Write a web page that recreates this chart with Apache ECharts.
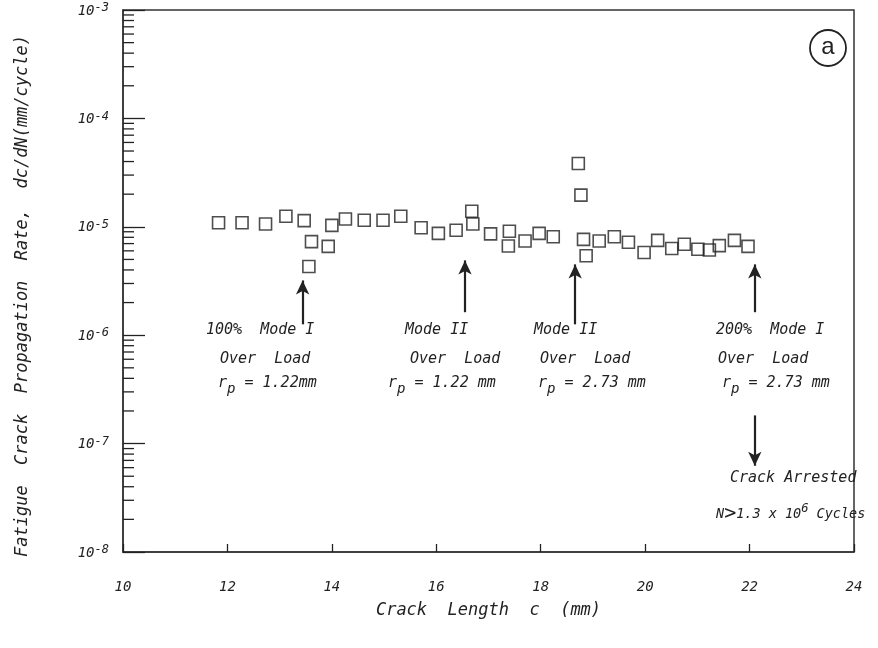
<!DOCTYPE html>
<html>
<head>
<meta charset="utf-8">
<script src="https://cdn.jsdelivr.net/npm/echarts@6/dist/echarts.min.js"></script>
<style>
html,body{margin:0;padding:0;background:#fff;}
#chart{width:878px;height:648px;}
</style>
</head>
<body>
<div id="chart"></div>
<script>
// ---- data ----
const crackLength = [11.83,12.28,12.73,13.12,13.47,13.61,13.56,14.00,13.93,14.26,14.62,14.98,15.32,15.71,16.04,16.38,16.68,16.70,17.04,17.40,17.38,17.70,17.97,18.24,18.72,18.77,18.82,18.87,19.12,19.41,19.68,19.98,20.24,20.51,20.75,21.01,21.23,21.42,21.71,21.97];
const growthRate = [1.09e-5,1.09e-5,1.06e-5,1.25e-5,1.14e-5,7.3e-6,4.3e-6,1.03e-5,6.6e-6,1.18e-5,1.15e-5,1.15e-5,1.25e-5,9.8e-6,8.7e-6,9.3e-6,1.39e-5,1.06e-5,8.6e-6,9.1e-6,6.65e-6,7.4e-6,8.7e-6,8.1e-6,3.84e-5,1.96e-5,7.65e-6,5.4e-6,7.4e-6,8.1e-6,7.2e-6,5.8e-6,7.5e-6,6.3e-6,6.9e-6,6.2e-6,6.1e-6,6.7e-6,7.5e-6,6.6e-6];
const xTickLabels = [10,12,14,16,18,20,22,24];
const yTickExponents = [-8,-7,-6,-5,-4,-3];
const minorMantissas = [2,3,4,5,6,7,8,9];
// overload arrows (x, tail value, head value)
const arrowX    = [13.44, 16.55, 18.66, 22.10, 22.10];
const arrowFrom = [1.26e-6, 1.63e-6, 1.26e-6, 1.63e-6, 1.82e-7];
const arrowTo   = [3.2e-6, 4.9e-6, 4.5e-6, 4.5e-6, 6.25e-8];

const minorTickData = [];
yTickExponents.slice(0, -1).forEach(e => minorMantissas.forEach(m => minorTickData.push([10, m * Math.pow(10, e)])));

const arrowLines = arrowX.map((x, i) => [{coord: [x, arrowFrom[i]]}, {coord: [x, arrowTo[i]]}]);

const ink = '#222';
const FONT = 'DejaVu Sans Mono';
const chart = echarts.init(document.getElementById('chart'));

function annot(x, y, text, size) {
  const fs = size || 15;
  return {type: 'text', left: x, top: y, style: {text: text, font: 'italic ' + fs + 'px "' + FONT + '"', fill: ink, rich: {
    n: {fontSize: fs, fontStyle: 'italic', fontFamily: FONT, fill: ink},
    g: {fontSize: 20, fontFamily: FONT, fill: ink},
    sub: {fontSize: 14, fontStyle: 'italic', fontFamily: FONT, fill: ink, padding: [12, 0, 0, 0]},
    sup: {fontSize: 12, fontStyle: 'italic', fontFamily: FONT, fill: ink, padding: [0, 0, 10, 0]}
  }}};
}

chart.setOption({
  animation: false,
  backgroundColor: '#fff',
  grid: {left: 123, right: 24, top: 10, bottom: 96, show: true, borderColor: '#333', borderWidth: 1.5},
  xAxis: {
    type: 'value', min: 10, max: 24, interval: 2,
    name: 'Crack  Length  c  (mm)', nameLocation: 'middle', nameGap: 50,
    nameTextStyle: {fontFamily: FONT, fontStyle: 'italic', fontSize: 17, color: ink},
    axisLine: {lineStyle: {color: '#333', width: 1.5}},
    axisTick: {inside: true, length: 8, lineStyle: {color: ink, width: 1.3}},
    splitLine: {show: false},
    axisLabel: {margin: 28, fontFamily: FONT, fontStyle: 'italic', fontSize: 14, color: ink,
      formatter: v => xTickLabels.indexOf(v) >= 0 ? String(v) : ''}
  },
  yAxis: {
    type: 'log', logBase: 10, min: 1e-8, max: 1e-3,
    name: 'Fatigue  Crack  Propagation  Rate,  dc/dN(mm/cycle)', nameLocation: 'middle', nameGap: 92, nameRotate: 90,
    nameTextStyle: {fontFamily: FONT, fontStyle: 'italic', fontSize: 17, color: ink, padding: [0, 30, 0, 0]},
    axisLine: {lineStyle: {color: '#333', width: 1.5}},
    axisTick: {inside: true, length: 22, lineStyle: {color: ink, width: 1.3}},
    splitLine: {show: false},
    axisLabel: {margin: 14, color: ink,
      formatter: v => '{b|10}{s|' + Math.round(Math.log10(v)) + '}',
      rich: {
        b: {fontFamily: FONT, fontStyle: 'italic', fontSize: 14, color: ink, verticalAlign: 'bottom', lineHeight: 16},
        s: {fontFamily: FONT, fontStyle: 'italic', fontSize: 12, color: ink, verticalAlign: 'top', lineHeight: 16}
      }}
  },
  series: [
    {
      type: 'scatter',
      data: crackLength.map((x, i) => [x, growthRate[i]]),
      symbol: 'rect', symbolSize: 12,
      itemStyle: {color: 'rgba(0,0,0,0)', borderColor: ink, borderWidth: 1.6},
      markLine: {
        silent: true, symbol: ['none', 'arrow'], symbolSize: [10, 14],
        lineStyle: {color: ink, width: 2.2, type: 'solid'},
        label: {show: false},
        data: arrowLines
      },
      z: 3
    },
    {
      type: 'custom', silent: true, clip: false,
      data: minorTickData,
      renderItem: (params, api) => {
        const p = api.coord([api.value(0), api.value(1)]);
        return {type: 'line', shape: {x1: p[0], y1: p[1], x2: p[0] + 11, y2: p[1]}, style: {stroke: ink, lineWidth: 1.3}};
      }
    }
  ],
  graphic: [
    annot(206, 323, '100%  Mode I'),
    annot(220, 352, 'Over  Load'),
    annot(218, 376, '{n|r}{sub|p}{n| = 1.22mm}'),
    annot(405, 323, 'Mode II'),
    annot(410, 352, 'Over  Load'),
    annot(388, 376, '{n|r}{sub|p}{n| = 1.22 mm}'),
    annot(534, 323, 'Mode II'),
    annot(540, 352, 'Over  Load'),
    annot(538, 376, '{n|r}{sub|p}{n| = 2.73 mm}'),
    annot(716, 323, '200%  Mode I'),
    annot(718, 352, 'Over  Load'),
    annot(722, 376, '{n|r}{sub|p}{n| = 2.73 mm}'),
    annot(730, 471, 'Crack Arrested'),
    annot(716, 503, '{n|N}{g|>}{n|1.3 x 10}{sup|6}{n| Cycles}', 13.5),
    {type: 'circle', shape: {cx: 828, cy: 48, r: 18}, style: {fill: 'none', stroke: ink, lineWidth: 1.8}},
    {type: 'text', x: 828, y: 47, style: {text: 'a', font: '24px "Liberation Sans"', fill: ink, textAlign: 'center', textVerticalAlign: 'middle'}}
  ]
});
</script>
</body>
</html>
